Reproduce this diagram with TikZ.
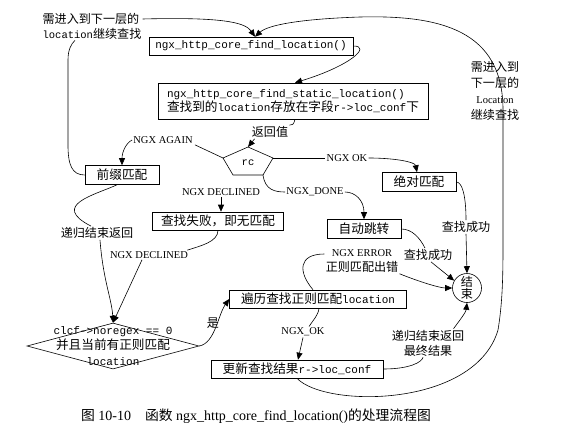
\documentclass[tikz,border=0pt]{standalone}
\usepackage{fontspec}
\setmainfont{Liberation Serif}
\setmonofont{Liberation Mono}
\newfontfamily\cjk[Scale=1.15]{Noto Sans CJK SC}
\usetikzlibrary{arrows.meta, positioning, shapes.geometric}

\newcommand\zh[1]{{\cjk #1}}

\tikzset{
  box/.style={draw, rectangle, inner sep=0pt, minimum height=18pt, font=\fontsize{11}{14}\selectfont},
  lbl/.style={inner sep=1pt, font=\fontsize{10.5}{15}\selectfont},
  arr/.style={-{Triangle[length=7pt,width=6pt]}},
}

\begin{document}
\begin{tikzpicture}[x=1pt, y=-1pt, line width=0.6pt]
\useasboundingbox (0,0) rectangle (572,444);

\node[box, minimum width=204pt] (find) at (251,46) {\ttfamily ngx\_http\_core\_find\_location()};
\node[box, minimum width=270pt, minimum height=36pt, align=left] (static) at (293,101)
  {{\ttfamily ngx\_http\_core\_find\_static\_location()}\\\zh{查找到的}{\ttfamily location}\zh{存放在字段}{\ttfamily r->loc\_conf}\zh{下}};
\node[box, minimum width=74pt, minimum height=19pt] (prefix) at (122,175) {\zh{前缀匹配}};
\node[box, minimum width=131pt] (notfound) at (218,221) {\zh{查找失败，即无匹配}};
\node[box, minimum width=74pt, minimum height=19pt] (exact) at (419,182) {\zh{绝对匹配}};
\node[box, minimum width=74pt, minimum height=19pt] (redirect) at (364,229) {\zh{自动跳转}};
\node[box, minimum width=177pt] (regex) at (318,299) {\zh{遍历查找正则匹配}{\ttfamily location}};
\node[box, minimum width=172pt] (update) at (297,369) {\zh{更新查找结果}{\ttfamily r->loc\_conf}};

\node[font=\fontsize{10.5}{12}\ttfamily] (rc) at (248,163) {rc};
\coordinate (rcT) at (248,147);
\coordinate (rcL) at (223,158);
\coordinate (rcR) at (273,158);
\coordinate (rcBL) at (233,175);
\coordinate (rcBR) at (263,175);
\draw (rcT) -- (rcR) -- (rcBR) -- (rcBL) -- (rcL) -- cycle;

\node[lbl, align=left] (topnote) at (92,26) {\zh{需进入到下一层的}\\{\ttfamily location}\zh{继续查找}};
\node[lbl, align=center, font=\fontsize{10.5}{16}\selectfont] (rightnote) at (495,91) {\zh{需进入到}\\\zh{下一层的}\\Location\\\zh{继续查找}};
\node[lbl] (ret) at (270,132) {\zh{返回值}};
\node[lbl] (again) at (163,140) {NGX AGAIN};
\node[lbl] (declined) at (221,192) {NGX DECLINED};
\node[lbl] (done) at (315,192) {NGX\_DONE};
\node[lbl] (ok) at (347,158) {NGX OK};
\node[draw, circle, minimum size=29pt, inner sep=0pt, align=center, font=\fontsize{10.5}{12}\selectfont] (end) at (467,288) {\zh{结}\\\zh{束}};
\node[lbl] (succ1) at (466,227) {\zh{查找成功}};
\node[lbl] (succ2) at (428,255) {\zh{查找成功}};
\node[lbl, align=center] (err) at (362,261) {NGX ERROR\\\zh{正则匹配出错}};
\node[lbl] (regok) at (303,332) {NGX\_OK};
\node[lbl, align=center] (final) at (428,343) {\zh{递归结束返回}\\\zh{最终结果}};
\node[lbl] (recur) at (97,233) {\zh{递归结束返回}};
\node[lbl] (declined2) at (149,255) {NGX DECLINED};
\node[draw, diamond, minimum width=172pt, minimum height=46pt, inner sep=0pt] (cond) at (113,346) {};
\node[align=center, font=\fontsize{11}{15.5}\selectfont] (condtext) at (cond.center)
  {{\ttfamily clcf->noregex == 0}\\\zh{并且当前有正则匹配}\\{\ttfamily location}};
\node[lbl] (yes) at (213,323) {\zh{是}};
\node[font=\fontsize{14}{16}\selectfont] (caption) at (256,416)
  {{\cjk\fontsize{12}{14}\selectfont 图} 10-10\quad{\cjk\fontsize{12}{14}\selectfont 函数} ngx\_http\_core\_find\_location(){\cjk\fontsize{12}{14}\selectfont 的处理流程图}};

\draw[arr] ([yshift=7pt]topnote.east) .. controls (220,17) and (245,22) .. ([xshift=4pt]find.north);
\draw[arr] (update.south) .. controls (325,408) and (475,408) .. (498,330) .. controls (503,300) and (503,270) .. (503,240) -- (503,110) .. controls (503,30) and (440,15) .. (360,17) .. controls (300,19) and (268,25) .. ([xshift=4pt]find.north);
\draw[arr] (find.east) .. controls (372,46) and (350,66) .. ([xshift=2pt]static.north);
\draw ([xshift=2pt]static.south) .. controls (294,124) and (292,126) .. (ret.north east);
\draw[arr] ([xshift=4pt]ret.south west) -- (rcT);
\draw (rcL) -- ([xshift=1pt]again.south east);
\draw[arr] (again.west) .. controls (126,143) and (122,152) .. (prefix.north);
\draw[arr] (declined.south) -- (declined.south |- notfound.north);
\draw (rcBR) .. controls (265,190) and (275,192) .. (done.west);
\draw[arr] (done.east) .. controls (355,192) and (364,200) .. (redirect.north);
\draw (rcR) -- (ok.west);
\draw[arr] (ok.east) .. controls (395,158) and (415,162) .. ([xshift=-2pt]exact.north);
\draw (exact.east) .. controls (462,182) and (466,195) .. (succ1.north);
\draw[arr] (succ1.south) -- (end.north);
\draw (redirect.east) .. controls (412,229) and (420,238) .. ([xshift=-3pt]succ2.north);
\draw[arr] ([xshift=3pt]succ2.south) -- (end.150);
\draw ([xshift=-5pt]regex.north) .. controls (298,272) and (298,254) .. ([yshift=7pt]err.west);
\draw[arr] (err.south east) .. controls (420,282) and (440,288) .. (end.west);
\draw ([xshift=1pt]regex.south) .. controls (318,316) and (313,320) .. ([xshift=6pt]regok.north);
\draw[arr] (regok.south) -- ([xshift=1pt]update.north);
\draw (update.east) .. controls (410,369) and (422,362) .. ([xshift=-5pt]final.south);
\draw[arr] ([xshift=-12pt]final.north east) .. controls (460,320) and (466,312) .. (end.south);
\draw (prefix.west) .. controls (72,175) and (68,165) .. (68,145) -- (68,60) .. controls (68,50) and (71,44) .. ([xshift=-17pt]topnote.south);
\draw ([xshift=-5pt]prefix.south) .. controls (95,195) and (50,205) .. ([xshift=-6pt]recur.north);
\draw[arr] ([xshift=3pt]recur.south) .. controls (103,280) and (112,300) .. (cond.north);
\draw (notfound.south) .. controls (218,242) and (200,246) .. ([xshift=-2pt]declined2.north east);
\draw[arr] ([xshift=-7pt]declined2.south) -- (cond.north);
\draw[arr] (cond.east) .. controls (215,343) and (218,315) .. (regex.west);
\end{tikzpicture}
\end{document}
